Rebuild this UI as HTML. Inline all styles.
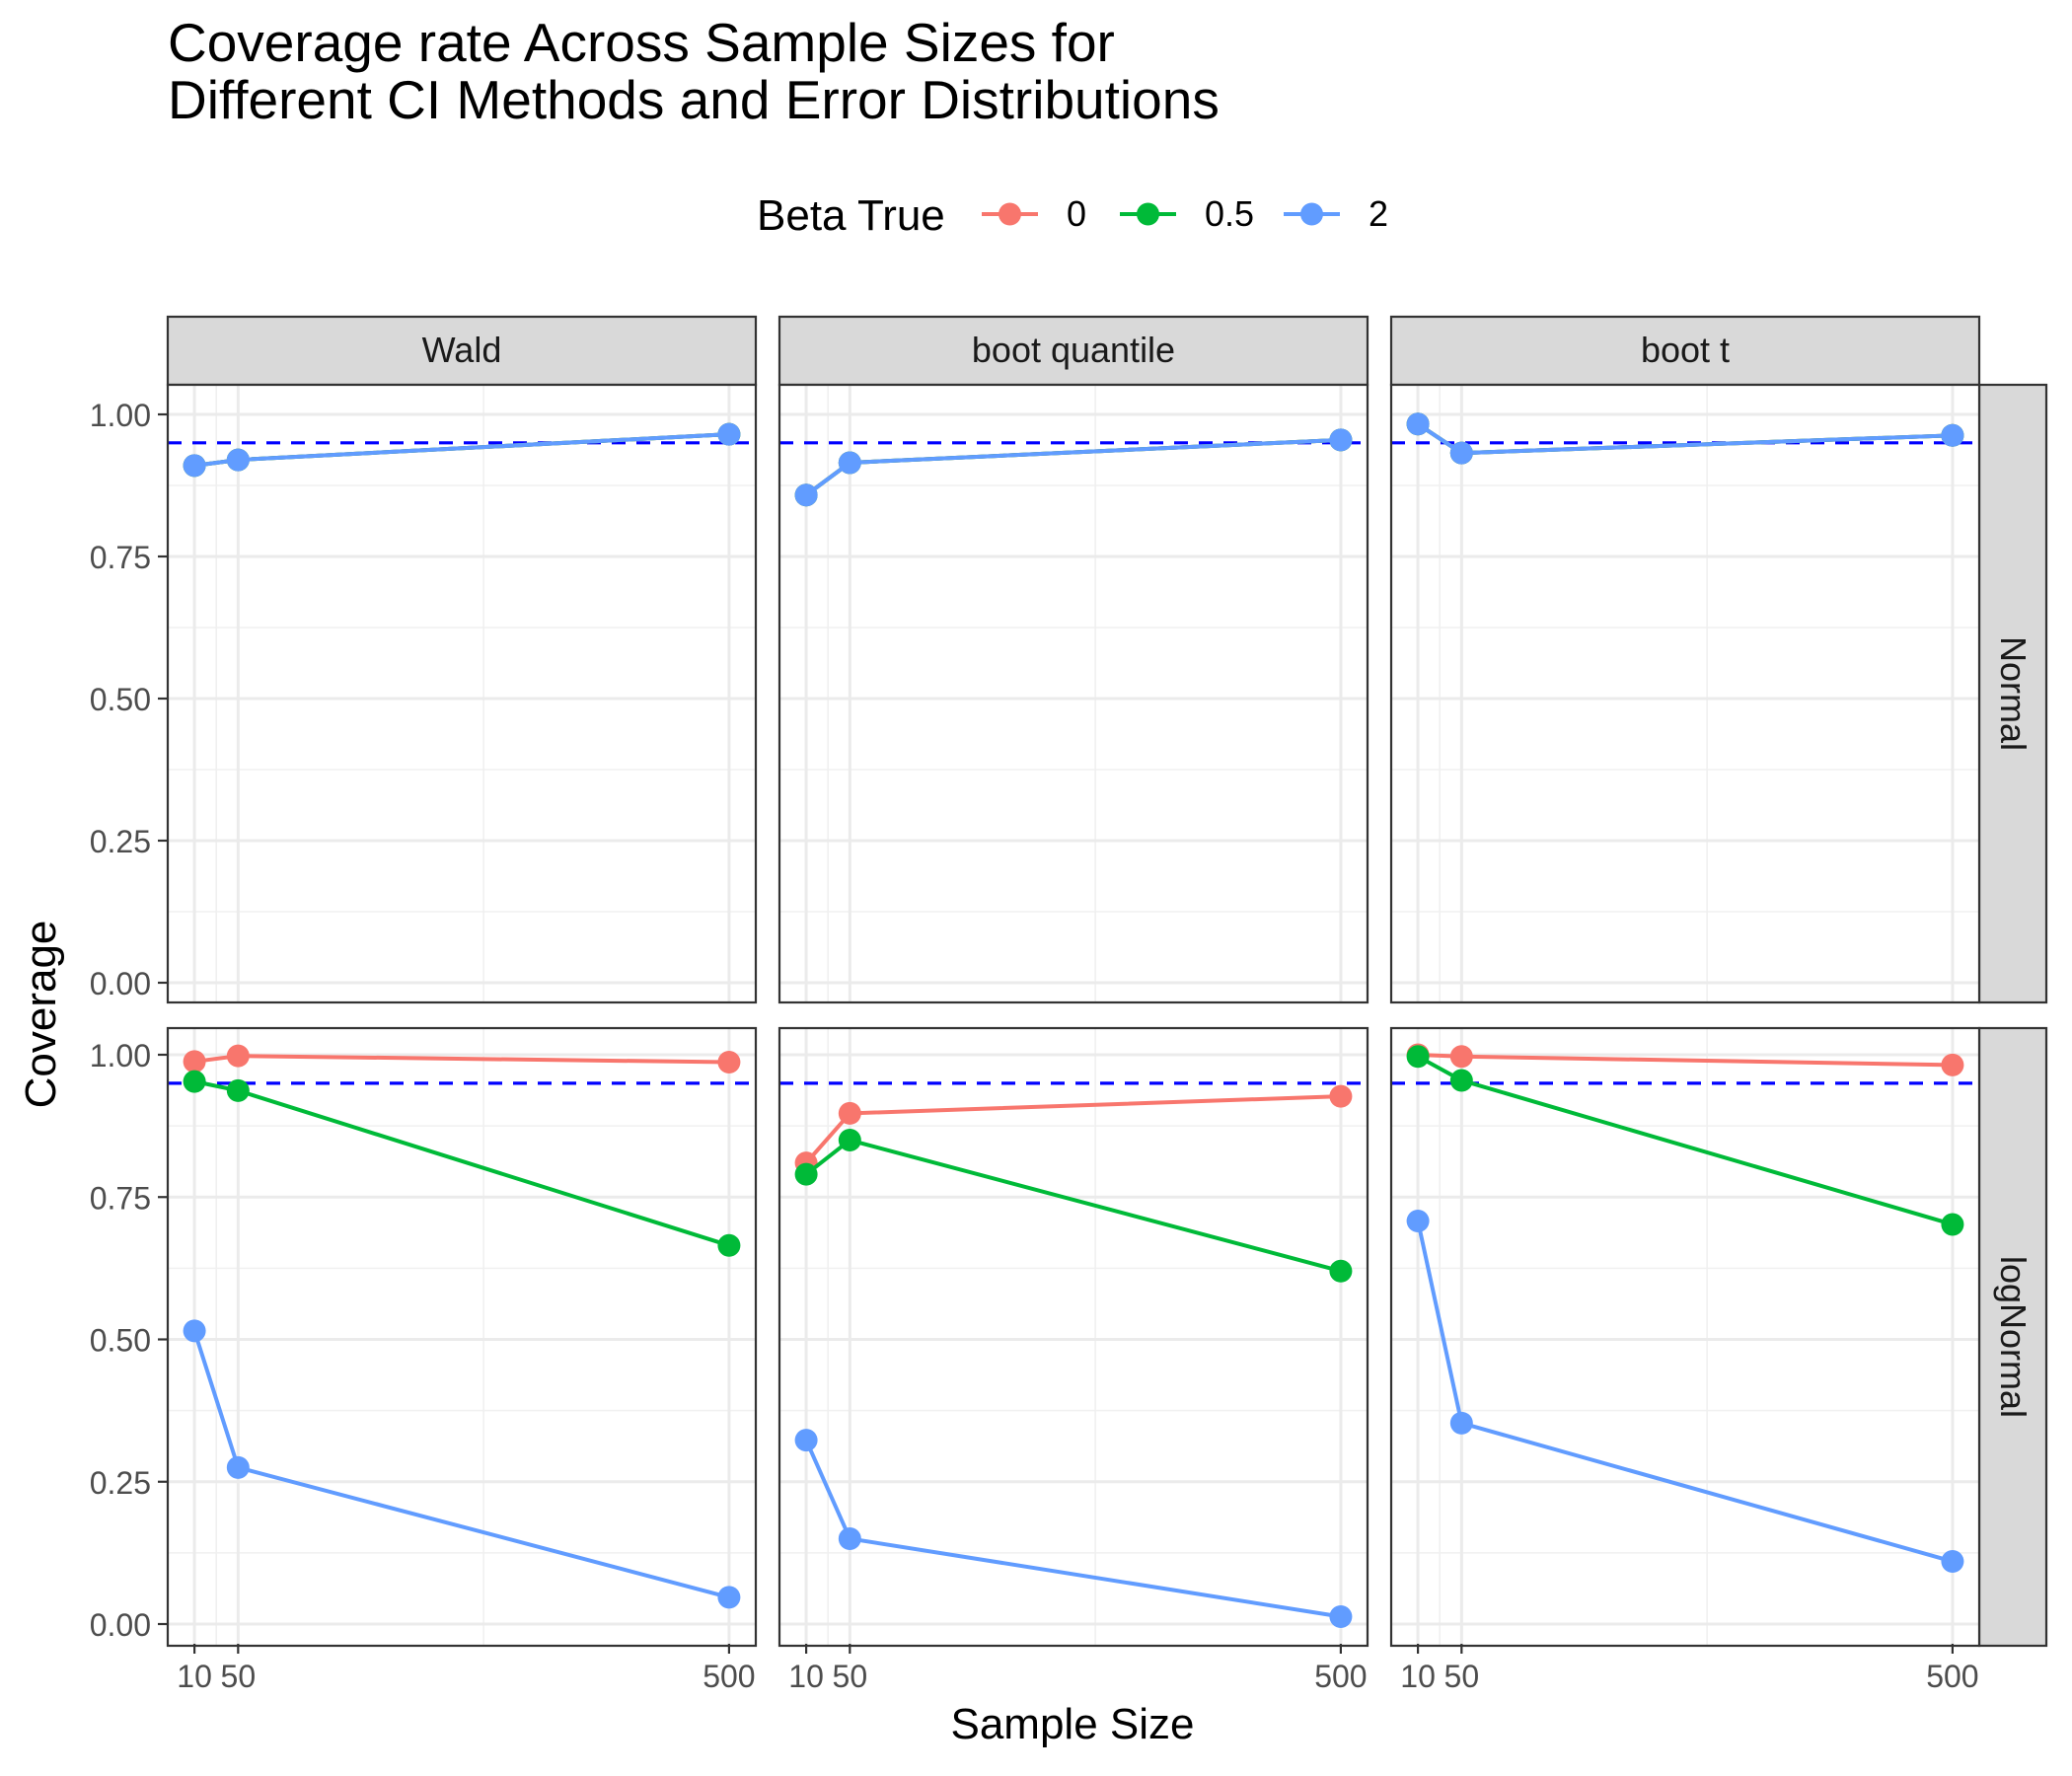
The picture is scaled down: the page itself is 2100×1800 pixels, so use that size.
<!DOCTYPE html>
<html><head><meta charset="utf-8"><style>
html,body{margin:0;padding:0;background:#fff}
svg{display:block;font-family:"Liberation Sans",Arial,sans-serif}
</style></head><body>
<svg id="chart" width="2100" height="1800" viewBox="0 0 2100 1800">
<text x="170" y="62" font-size="55" fill="#000">Coverage rate Across Sample Sizes for</text>
<text x="170" y="120" font-size="55" fill="#000">Different CI Methods and Error Distributions</text>
<g id="legend">
<text x="767" y="233" font-size="44">Beta True</text>
</g>
<g id="panels"></g>
<text transform="translate(56,1028) rotate(-90)" text-anchor="middle" font-size="44">Coverage</text>
<text x="1087" y="1762" text-anchor="middle" font-size="44">Sample Size</text>
</svg>
<script>
const sampleSizes = [10, 50, 500];
const methods = ["Wald", "boot quantile", "boot t"];
const dists = ["Normal", "logNormal"];
const betaLevels = ["0", "0.5", "2"];
const colors = ["#F8766D", "#00BA38", "#619CFF"];
const yTicks = [0, 0.25, 0.5, 0.75, 1.0];
const yTickLabels = ["0.00", "0.25", "0.50", "0.75", "1.00"];
const xTickLabels = ["10", "50", "500"];
const target = 0.95;
const normalWald = [[0.91,0.92,0.965],[0.91,0.92,0.965],[0.91,0.92,0.965]];
const normalBootQ = [[0.858,0.915,0.955],[0.858,0.915,0.955],[0.858,0.915,0.955]];
const normalBootT = [[0.983,0.932,0.963],[0.983,0.932,0.963],[0.983,0.932,0.963]];
const lognormWald = [[0.988,0.998,0.987],[0.953,0.937,0.665],[0.515,0.275,0.047]];
const lognormBootQ = [[0.81,0.897,0.927],[0.79,0.85,0.62],[0.323,0.15,0.013]];
const lognormBootT = [[1.0,0.997,0.982],[0.997,0.955,0.702],[0.708,0.353,0.11]];
const coverage = [[normalWald, normalBootQ, normalBootT],[lognormWald, lognormBootQ, lognormBootT]];

const NS = "http://www.w3.org/2000/svg";
function mk(tag, attrs, parent){const e=document.createElementNS(NS,tag);for(const k in attrs)e.setAttribute(k,attrs[k]);parent.appendChild(e);return e;}
const colX = [170, 790, 1410], colW = 596;
const rowY = [390, 1042], rowH = 626;
const stripTop = 321, stripH = 69;
const xMin = 10 - 24.5, xMax = 500 + 24.5;
function xScale(c, v){return colX[c] + (v - xMin)/(xMax - xMin)*colW;}
const y0 = [996, 1646], y1 = [420, 1069];
function yScale(r, v){return y0[r] + v*(y1[r]-y0[r]);}
const panels = document.getElementById('panels');

const legend = document.getElementById('legend');
const keyX = [995, 1135, 1301];
for (let i=0;i<3;i++){
  const g = mk('g',{},legend);
  
  
  mk('line',{x1:keyX[i],x2:keyX[i]+57,y1:217,y2:217,stroke:colors[i],'stroke-width':4},g);
  mk('circle',{cx:keyX[i]+28.5,cy:217,r:11.5,fill:colors[i]},g);
  const t = mk('text',{x:keyX[i]+86,y:229,'font-size':36},g);
  t.textContent = betaLevels[i];
}

for (let c=0;c<3;c++){
  const g = mk('g',{},panels);
  
  
  mk('rect',{x:colX[c],y:stripTop,width:colW,height:stripH,fill:'#d9d9d9',stroke:'#333','stroke-width':2.2},g);
  const t = mk('text',{x:colX[c]+colW/2,y:stripTop+46,'font-size':36,'text-anchor':'middle',fill:'#1a1a1a'},g);
  t.textContent = methods[c];
}
for (let r=0;r<2;r++){
  const g = mk('g',{},panels);
  
  
  mk('rect',{x:2006,y:rowY[r],width:68,height:rowH,fill:'#d9d9d9',stroke:'#333','stroke-width':2.2},g);
  const t = mk('text',{transform:`translate(2028,${rowY[r]+rowH/2}) rotate(90)`,'font-size':36,'text-anchor':'middle',fill:'#1a1a1a'},g);
  t.textContent = dists[r];
}

for (let r=0;r<2;r++){
  for (let c=0;c<3;c++){
    const g = mk('g',{},panels);
    
    
    mk('rect',{x:colX[c],y:rowY[r],width:colW,height:rowH,fill:'#fff'},g);
    for (let i=0;i<yTicks.length-1;i++){
      const yy = yScale(r,(yTicks[i]+yTicks[i+1])/2);
      mk('line',{x1:colX[c],x2:colX[c]+colW,y1:yy,y2:yy,stroke:'#f0f0f0','stroke-width':1.6},g);
    }
    for (let i=0;i<sampleSizes.length-1;i++){
      const xx = xScale(c,(sampleSizes[i]+sampleSizes[i+1])/2);
      mk('line',{x1:xx,x2:xx,y1:rowY[r],y2:rowY[r]+rowH,stroke:'#f0f0f0','stroke-width':1.6},g);
    }
    yTicks.forEach(v=>{const yy=yScale(r,v);mk('line',{x1:colX[c],x2:colX[c]+colW,y1:yy,y2:yy,stroke:'#ebebeb','stroke-width':3},g);});
    sampleSizes.forEach(v=>{const xx=xScale(c,v);mk('line',{x1:xx,x2:xx,y1:rowY[r],y2:rowY[r]+rowH,stroke:'#ebebeb','stroke-width':3},g);});
    const ty = yScale(r,target);
    const hl = mk('line',{x1:colX[c],x2:colX[c]+colW,y1:ty,y2:ty,stroke:'#0000ff','stroke-width':3.2,'stroke-dasharray':'14 11'},g);
    
    
    for (let b=0;b<3;b++){
      const vals = coverage[r][c][b];
      const pts = vals.map((v,i)=>xScale(c,sampleSizes[i])+','+yScale(r,v)).join(' ');
      const pl = mk('polyline',{points:pts,fill:'none',stroke:colors[b],'stroke-width':4},g);
      
      
      vals.forEach((v,i)=>{
        const p = mk('circle',{cx:xScale(c,sampleSizes[i]),cy:yScale(r,v),r:11.5,fill:colors[b]},g);
        
        
      });
    }
    mk('rect',{x:colX[c],y:rowY[r],width:colW,height:rowH,fill:'none',stroke:'#333','stroke-width':2.2},g);
    if (c===0){
      yTicks.forEach((v,i)=>{
        const yy=yScale(r,v);
        mk('line',{x1:160,x2:170,y1:yy,y2:yy,stroke:'#333','stroke-width':2.2},g);
        const t=mk('text',{x:153,y:yy+12,'font-size':32,'text-anchor':'end',fill:'#4d4d4d'},g);
        t.textContent=yTickLabels[i];
      });
    }
    if (r===1){
      sampleSizes.forEach((v,i)=>{
        const xx=xScale(c,v);
        mk('line',{x1:xx,x2:xx,y1:1666,y2:1676,stroke:'#333','stroke-width':2.2},g);
        const t=mk('text',{x:xx,y:1710,'font-size':32,'text-anchor':'middle',fill:'#4d4d4d'},g);
        t.textContent=xTickLabels[i];
      });
    }
  }
}
</script>
</body></html>
